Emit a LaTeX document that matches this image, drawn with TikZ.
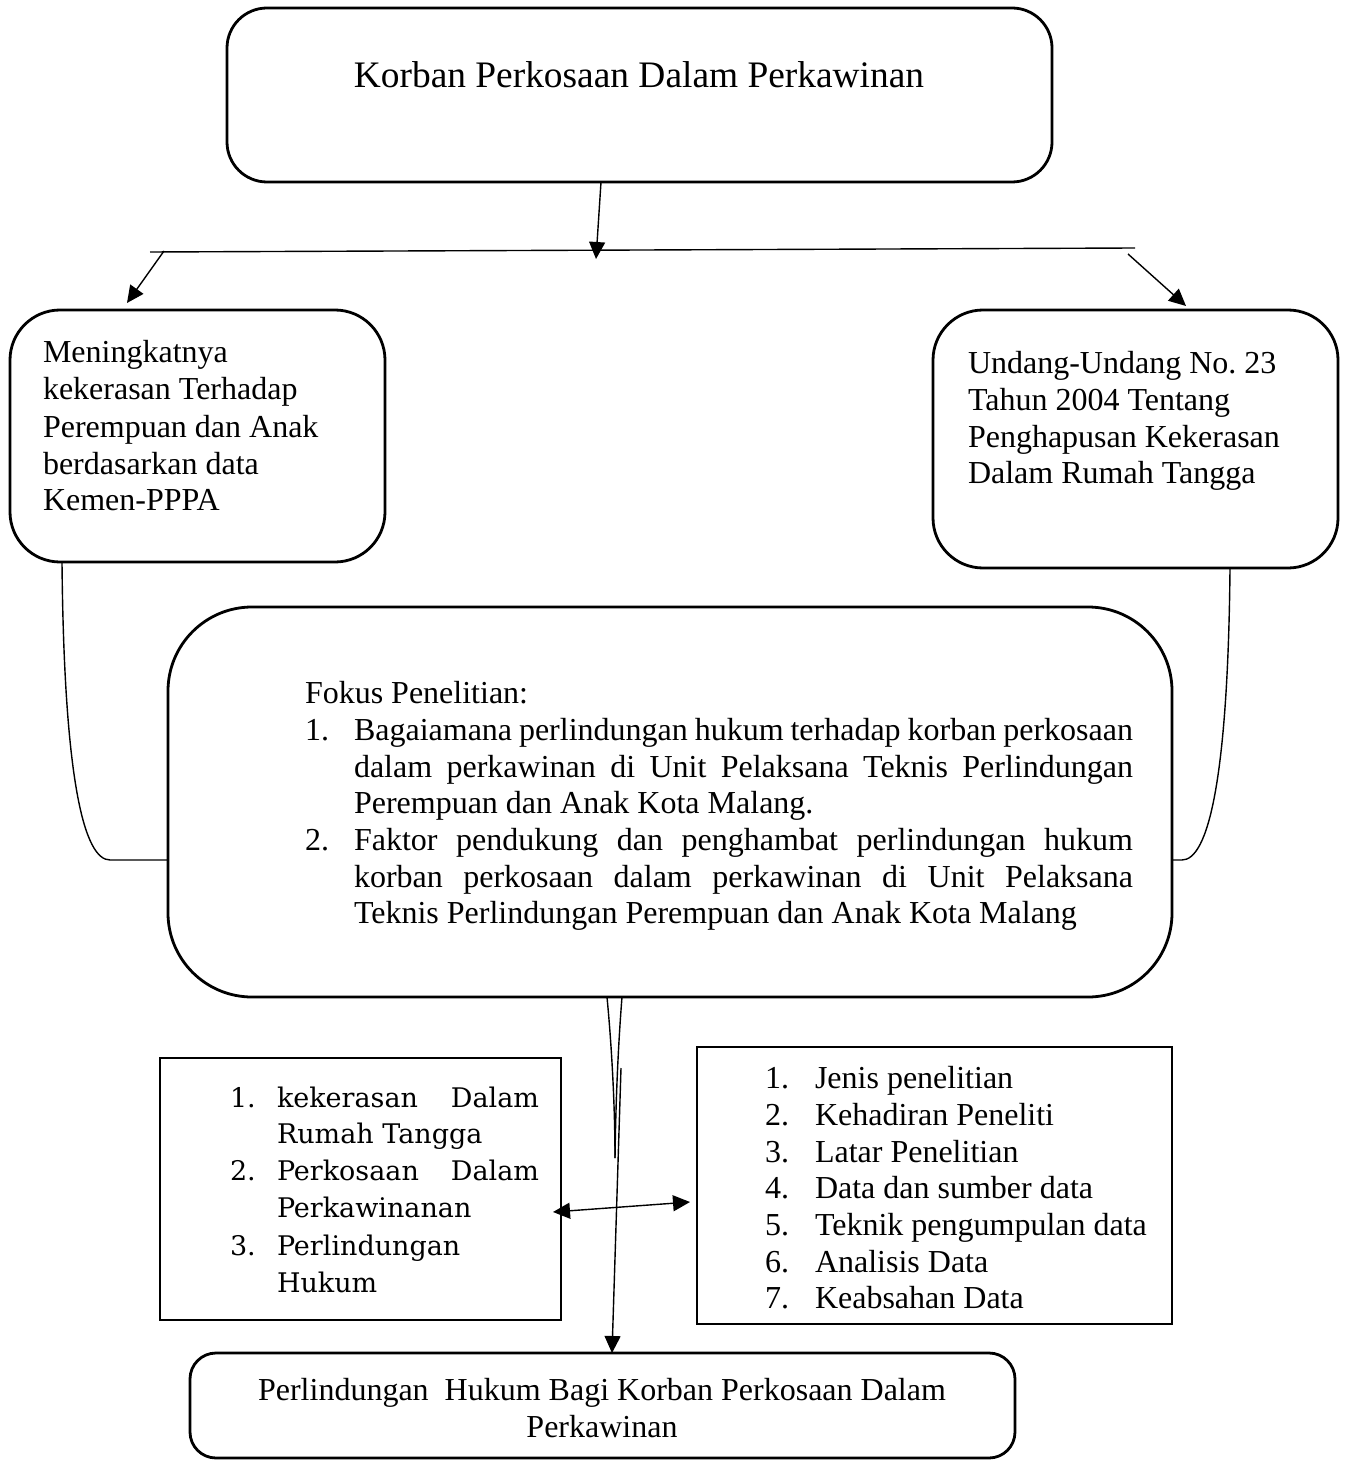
\documentclass[tikz,border=0pt]{standalone}
\usepackage{fontspec}
\setmainfont{Liberation Serif}
\newfontfamily\cambfont{DejaVu Serif}
\usetikzlibrary{arrows.meta}
\frenchspacing
\begin{document}
\begin{tikzpicture}[x=0.5pt,y=-0.5pt,
  boxline/.style={draw=black,line width=1.4pt,inner sep=0pt,outer sep=0pt},
  rbox/.style={boxline,rectangle,rounded corners=#1},
  sbox/.style={boxline,rectangle},
  conn/.style={line width=0.7pt},
  arr/.style={conn,-{Triangle[length=8.5pt,width=8pt]}},
  darr/.style={conn,{Triangle[length=8.5pt,width=8pt]}-{Triangle[length=8.5pt,width=8pt]}},
  txt/.style={inner sep=0pt,outer sep=0pt,anchor=base west,font=\fontsize{16pt}{18.4pt}\selectfont},
  ctxt/.style={txt,anchor=base},
  ltxt/.style={inner sep=0pt,outer sep=0pt,anchor=base west,font=\cambfont\fontsize{13.5pt}{18.4pt}\selectfont}
]
\useasboundingbox (0,0) rectangle (1349,1460);
\fill[white] (0,0) rectangle (1349,1460);

% boxes
\node[rbox=20pt,minimum width=412.5pt,minimum height=87pt] (top) at (639.5,95) {};
\node[rbox=25pt,minimum width=187.5pt,minimum height=126pt] (lbox) at (197.5,436) {};
\node[rbox=25pt,minimum width=202.5pt,minimum height=129pt] (rbox) at (1135.5,439) {};
\node[rbox=42pt,minimum width=502pt,minimum height=195pt] (mid) at (670,802) {};
\node[sbox,minimum width=200.5pt,minimum height=131pt] (llist) at (360.5,1189) {};
\node[sbox,minimum width=237.5pt,minimum height=138.5pt] (rlist) at (934.5,1185.5) {};
\node[rbox=13pt,minimum width=412.5pt,minimum height=52.5pt] (bot) at (602.5,1405.5) {};

% title
\node[ctxt,font=\fontsize{18.7pt}{22pt}\selectfont] (ttl) at (639,88) {Korban Perkosaan Dalam Perkawinan};

% left box text
\node[txt] (l1) at (43,363) {Meningkatnya};
\node[txt] (l2) at (43,400) {kekerasan Terhadap};
\node[txt] (l3) at (43,437) {Perempuan dan Anak};
\node[txt] (l4) at (43,474) {berdasarkan data};
\node[txt] (l5) at (43,510) {Kemen-PPPA};

% right box text
\node[txt] (r1) at (968,373) {Undang-Undang No. 23};
\node[txt] (r2) at (968,410) {Tahun 2004 Tentang};
\node[txt] (r3) at (968,447) {Penghapusan Kekerasan};
\node[txt] (r4) at (968,483) {Dalam Rumah Tangga};

% middle text
\node[txt] (m0) at (305,703) {Fokus Penelitian:};
\node[txt] (mn1) at (305,740) {1.};
\node[txt] (m1) at (354,740) {\makebox[389.5pt][s]{Bagaiamana perlindungan hukum terhadap korban perkosaan}};
\node[txt] (m2) at (354,777) {\makebox[389.5pt][s]{dalam perkawinan di Unit Pelaksana Teknis Perlindungan}};
\node[txt] (m3) at (354,813) {Perempuan dan Anak Kota Malang.};
\node[txt] (mn2) at (305,850) {2.};
\node[txt] (m4) at (354,850) {\makebox[389.5pt][s]{Faktor pendukung dan penghambat perlindungan hukum}};
\node[txt] (m5) at (354,887) {\makebox[389.5pt][s]{korban perkosaan dalam perkawinan di Unit Pelaksana}};
\node[txt] (m6) at (354,923) {Teknis Perlindungan Perempuan dan Anak Kota Malang};

% left list
\node[ltxt] (ln1) at (230,1107) {1.};
\node[ltxt] (lt1) at (277,1107) {\makebox[131pt][s]{kekerasan Dalam}};
\node[ltxt] (lt2) at (277,1143) {Rumah Tangga};
\node[ltxt] (ln2) at (230,1180) {2.};
\node[ltxt] (lt3) at (277,1180) {\makebox[131pt][s]{Perkosaan Dalam}};
\node[ltxt] (lt4) at (277,1217) {Perkawinanan};
\node[ltxt] (ln3) at (230,1255) {3.};
\node[ltxt] (lt5) at (277,1255) {Perlindungan};
\node[ltxt] (lt6) at (277,1292) {Hukum};

% right list
\node[txt] (rn1) at (765,1088) {1.};
\node[txt] (rt1) at (815,1088) {Jenis penelitian};
\node[txt] (rn2) at (765,1125) {2.};
\node[txt] (rt2) at (815,1125) {Kehadiran Peneliti};
\node[txt] (rn3) at (765,1162) {3.};
\node[txt] (rt3) at (815,1162) {Latar Penelitian};
\node[txt] (rn4) at (765,1198) {4.};
\node[txt] (rt4) at (815,1198) {Data dan sumber data};
\node[txt] (rn5) at (765,1235) {5.};
\node[txt] (rt5) at (815,1235) {Teknik pengumpulan data};
\node[txt] (rn6) at (765,1272) {6.};
\node[txt] (rt6) at (815,1272) {Analisis Data};
\node[txt] (rn7) at (765,1308) {7.};
\node[txt] (rt7) at (815,1308) {Keabsahan Data};

% bottom text
\node[ctxt] (b1) at (602,1400) {Perlindungan\ \ Hukum Bagi Korban Perkosaan Dalam};
\node[ctxt] (b2) at (602,1437) {Perkawinan};

% connectors
\coordinate (a1s) at (601,182);
\coordinate (a1t) at (596,259);
\coordinate (hL) at (150,252);
\coordinate (hR) at (1135,248);
\coordinate (alS) at (164,251);
\coordinate (alT) at (127,303);
\coordinate (arS) at (1128,254);
\coordinate (arT) at (1186,306);
\draw[conn] (hL) -- (hR);
\draw[arr] (a1s |- top.south) -- (a1t);
\draw[arr] (alS) -- (alT);
\draw[arr] (arS) -- (arT);

% side curves
\coordinate (lc) at (62,562);
\coordinate (rc) at (1230,562);
\draw[conn] (lc |- lbox.south) .. controls (64,780) and (84,860) .. (110,860) -- (mid.west |- 0,860);
\draw[conn] (rc |- rbox.south) .. controls (1228,780) and (1208,860) .. (1182,860) -- (mid.east |- 0,860);

% bottom V
\coordinate (vL) at (607,997);
\coordinate (vR) at (622,997);
\coordinate (vT) at (615,1158);
\draw[conn] (vL |- mid.south) .. controls (613,1060) and (615,1120) .. (vT);
\draw[conn] (vR |- mid.south) .. controls (617,1060) and (615.5,1120) .. (vT);

% long arrow to bottom box
\coordinate (dS) at (621,1068);
\coordinate (dT) at (612,1352);
\draw[arr] (dS) -- (dT |- bot.north);

% double arrow between lists
\coordinate (hA) at (553,1212);
\coordinate (hB) at (690,1202);
\draw[darr] (hA) -- (hB);
\end{tikzpicture}
\end{document}
